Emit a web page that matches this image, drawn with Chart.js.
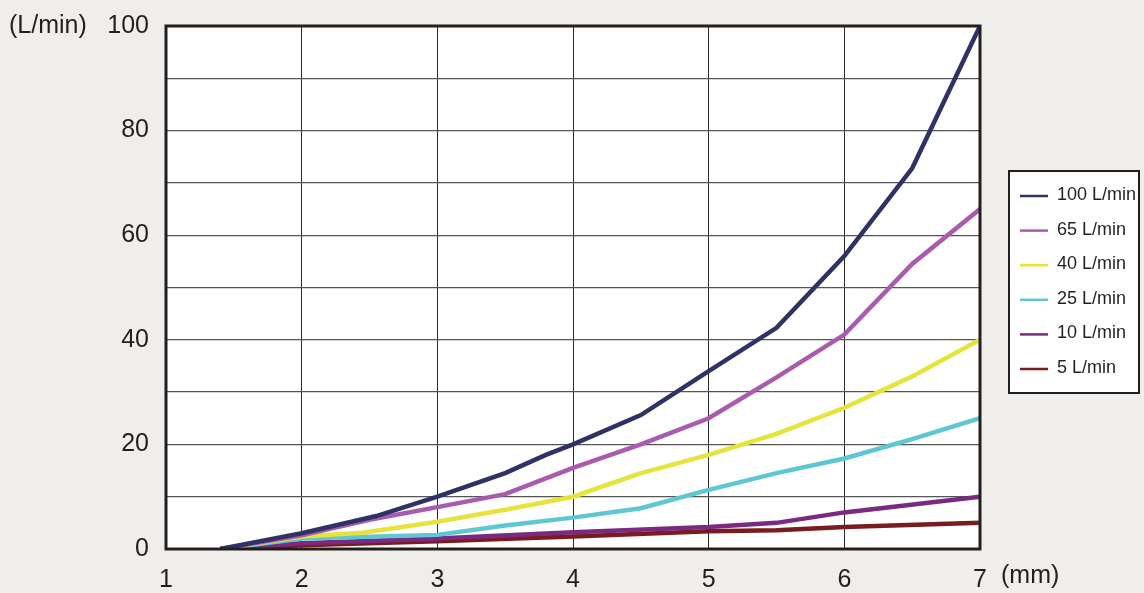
<!DOCTYPE html>
<html>
<head>
<meta charset="utf-8">
<script src="https://cdn.jsdelivr.net/npm/chart.js@4"></script>
<style>
    html, body { margin: 0; padding: 0; background: #efeeea; }
    #wrap { width: 1144px; height: 593px; }
</style>
</head>
<body>
<div id="wrap"><canvas id="graphic" width="1144" height="593"></canvas></div>
<script>
// sizes in mm on x, flow in L/min on y
const seriesNames = ['100 L/min', '65 L/min', '40 L/min', '25 L/min', '10 L/min', '5 L/min'];
const seriesColors = ['#2e3264', '#a95bad', '#e6e33c', '#5ec7d1', '#7b2a82', '#7a1c1f'];

const x100 = [1.4, 2, 2.55, 3, 3.5, 3.8, 4, 4.5, 5, 5.5, 6, 6.5, 7];
const y100 = [0, 3, 6.3, 10, 14.5, 18, 20, 25.6, 34, 42.3, 56, 72.8, 100];

const x65 = [1.4, 2, 2.5, 3, 3.5, 4, 4.5, 5, 5.5, 6, 6.5, 7];
const y65 = [0, 2.6, 5.6, 8, 10.5, 15.5, 20, 25, 32.8, 41, 54.5, 65];

const x40 = [1.4, 2, 2.45, 3, 3.5, 4, 4.5, 5, 5.5, 6, 6.5, 7];
const y40 = [0, 2.4, 3.1, 5.2, 7.5, 10, 14.5, 18, 22, 27, 33, 40];

const x25 = [1.4, 2, 3, 3.5, 4, 4.5, 5, 5.5, 6, 6.5, 7];
const y25 = [0, 2, 2.7, 4.5, 6, 7.8, 11.3, 14.5, 17.3, 21, 25];

const x10 = [1.4, 2, 3, 4, 5, 5.5, 6, 7];
const y10 = [0, 1.1, 2, 3.2, 4.2, 5, 7, 10];

const x5 = [1.4, 2, 3, 4, 5, 5.5, 6, 7];
const y5 = [0, 0.7, 1.5, 2.4, 3.4, 3.6, 4.2, 5];

const xTicks = [1, 2, 3, 4, 5, 6, 7];
const yLabelTicks = [0, 20, 40, 60, 80, 100];

const allX = [x100, x65, x40, x25, x10, x5];
const allY = [y100, y65, y40, y25, y10, y5];

const textColor = '#231f20';
const fontFamily = "'Liberation Sans', Arial, sans-serif";

const datasets = seriesNames.map((name, i) => ({
    label: name,
    data: allX[i].map((x, j) => ({ x: x, y: allY[i][j] })),
    borderColor: seriesColors[i],
    backgroundColor: seriesColors[i],
    borderWidth: 4.5,
    pointRadius: 0,
    tension: 0,
    fill: false
}));

// white plot area, black frame, unit labels and boxed legend
const decorPlugin = {
    id: 'decor',
    beforeDraw(chart) {
        const { ctx, chartArea: a } = chart;
        ctx.save();
        ctx.fillStyle = '#ffffff';
        ctx.fillRect(a.left, a.top, a.right - a.left, a.bottom - a.top);
        ctx.restore();
    },
    afterDraw(chart) {
        const { ctx, chartArea: a } = chart;
        ctx.save();
        ctx.strokeStyle = textColor;
        ctx.lineWidth = 3;
        ctx.strokeRect(a.left, a.top, a.right - a.left, a.bottom - a.top);

        ctx.fillStyle = textColor;
        ctx.font = '25px ' + fontFamily;
        ctx.textBaseline = 'middle';
        ctx.textAlign = 'left';
        ctx.fillText('(L/min)', 9, 26);
        ctx.fillText('(mm)', 1001, 576);

        // legend box
        const bx = 1009, by = 171, bw = 130, bh = 222;
        ctx.fillStyle = '#ffffff';
        ctx.fillRect(bx, by, bw, bh);
        ctx.strokeStyle = textColor;
        ctx.lineWidth = 2;
        ctx.strokeRect(bx, by, bw, bh);
        ctx.font = '18px ' + fontFamily;
        chart.data.datasets.forEach((ds, i) => {
            const yy = by + 24 + i * 34.6;
            ctx.strokeStyle = ds.borderColor;
            ctx.lineWidth = 2.5;
            ctx.beginPath();
            ctx.moveTo(bx + 11, yy + 1);
            ctx.lineTo(bx + 39, yy + 1);
            ctx.stroke();
            ctx.fillStyle = textColor;
            ctx.fillText(ds.label, bx + 48, yy);
        });
        ctx.restore();
    }
};

new Chart(document.getElementById('graphic'), {
    type: 'line',
    data: { datasets: datasets },
    options: {
        responsive: false,
        animation: false,
        layout: { padding: { top: 26, right: 164, bottom: 0, left: 0 } },
        plugins: {
            legend: { display: false },
            tooltip: { enabled: false }
        },
        scales: {
            x: {
                type: 'linear',
                min: 1,
                max: 7,
                afterBuildTicks(scale) {
                    scale.ticks = xTicks.map(v => ({ value: v }));
                },
                afterFit(scale) {
                    scale.height = 44;
                    scale.paddingLeft = 0;
                    scale.paddingRight = 0;
                },
                grid: { color: '#2a2a2a', lineWidth: 1, drawTicks: false },
                border: { display: false },
                ticks: {
                    color: textColor,
                    font: { size: 25, family: fontFamily },
                    padding: 16,
                    maxRotation: 0,
                    autoSkip: false
                }
            },
            y: {
                min: 0,
                max: 100,
                ticks: {
                    stepSize: 10,
                    color: textColor,
                    font: { size: 25, family: fontFamily },
                    padding: 17,
                    callback: v => yLabelTicks.includes(v) ? v : ''
                },
                afterFit(scale) {
                    scale.width = 166;
                    scale.paddingTop = 0;
                    scale.paddingBottom = 0;
                },
                grid: { color: '#555555', lineWidth: 1.2, drawTicks: false },
                border: { display: false }
            }
        }
    },
    plugins: [decorPlugin]
});
</script>
</body>
</html>
